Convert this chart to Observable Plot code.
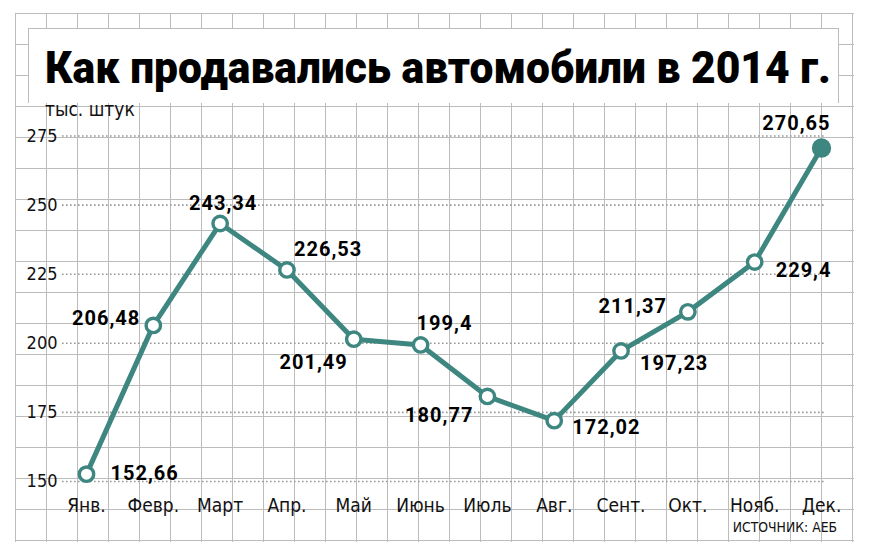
<!DOCTYPE html>
<html>
<head>
<meta charset="utf-8">
<script src="https://cdn.jsdelivr.net/npm/d3@7"></script>
<script src="https://cdn.jsdelivr.net/npm/@observablehq/plot@0.6"></script>
<style>
  html, body { margin: 0; padding: 0; background: #fff; }
  #wrap { position: relative; width: 869px; height: 553px; overflow: hidden; background: #fff; }
  #grid { position: absolute; left: 15px; top: 13px; width: 839px; height: 529px;
    background-image: linear-gradient(to right, #bcbcbc 1.4px, transparent 1.4px),
                      linear-gradient(to bottom, #bcbcbc 1.4px, transparent 1.4px);
    background-size: 31px 31px; }
  #titlebox { position: absolute; left: 28px; top: 28px; width: 809px; height: 74px; background: #fff;
    border-left: 1.5px solid #bcbcbc; border-top: 1.5px solid #bcbcbc; border-right: 1.5px solid #bcbcbc; }
  #title { position: absolute; left: 45px; top: 46px; font-family: Roboto, "DejaVu Sans", sans-serif;
    font-weight: 900; font-size: 44px; line-height: 1; white-space: nowrap; color: #000; transform-origin: 0 0; }
  #chart { position: absolute; left: 0; top: 0; }
  #unit { position: absolute; left: 45px; top: 100px; font-family: "Liberation Sans Narrow", "DejaVu Sans Condensed", sans-serif;
    font-size: 19px; line-height: 1; color: #111; }
  #source { position: absolute; right: 32px; top: 521px; font-family: "Liberation Sans Narrow", "DejaVu Sans Condensed", sans-serif;
    font-size: 13.8px; line-height: 1; color: #111; }
  #chart g[aria-label="text"] text { letter-spacing: 1px; }
</style>
</head>
<body>
<div id="wrap">
  <div id="grid"></div>
  <div id="titlebox"></div>
  <div id="title">Как продавались автомобили в 2014 г.</div>
  <div id="chart"></div>
  <div id="unit">тыс. штук</div>
  <div id="source">ИСТОЧНИК: АЕБ</div>
</div>
<script>
const months = ["Янв.", "Февр.", "Март", "Апр.", "Май", "Июнь", "Июль", "Авг.", "Сент.", "Окт.", "Нояб.", "Дек."];
const sales = [152.66, 206.48, 243.34, 226.53, 201.49, 199.4, 180.77, 172.02, 197.23, 211.37, 229.4, 270.65];
const yTicks = [150, 175, 200, 225, 250, 275];

// label placement relative to each point: [textAnchor, dx, dy]
const labelPlacement = [
  ["start", 24, -1], ["end", -13, -7], ["middle", 3, -20], ["start", 7, -20],
  ["end", -6, 23], ["start", -4, -21], ["end", -14, 19], ["start", 18, 7],
  ["start", 19, 13], ["end", -21, -5], ["start", 21, 9], ["end", 9, -24]
];

const teal = "#3e8680";
const data = months.map((m, i) => ({month: m, value: sales[i], label: String(sales[i]).replace(".", ",")}));
const last = data.length - 1;

const labelMarks = data.map((d, i) => Plot.text([d], {
  x: "month", y: "value", text: "label",
  textAnchor: labelPlacement[i][0], dx: labelPlacement[i][1], dy: labelPlacement[i][2],
  fontFamily: "Roboto, 'DejaVu Sans', sans-serif", fontWeight: 700, fontSize: 20, fill: "#000"
}));

const chart = Plot.plot({
  width: 869,
  height: 553,
  marginLeft: 62,
  marginRight: 44,
  marginTop: 120,
  marginBottom: 58,
  style: {background: "transparent", fontFamily: "'Liberation Sans Narrow', 'DejaVu Sans Condensed', sans-serif", color: "#111"},
  x: {type: "point", domain: months, range: [86, 821], padding: 0, round: false},
  y: {domain: [150, 275], range: [481, 135.5]},
  marks: [
    Plot.ruleY(yTicks, {stroke: "#999", strokeWidth: 1.6, strokeDasharray: "1.6,2.4"}),
    Plot.axisY(yTicks, {tickSize: 0, tickPadding: 5, fontSize: 18, label: null, fill: "#111"}),
    Plot.axisX({tickSize: 0, tickPadding: 3, fontSize: 19, label: null, fill: "#111"}),
    Plot.line(data, {x: "month", y: "value", stroke: teal, strokeWidth: 5, strokeLinejoin: "round"}),
    Plot.dot(data.slice(0, last), {x: "month", y: "value", r: 7.2, fill: "#fff", stroke: teal, strokeWidth: 3.4}),
    Plot.dot([data[last]], {x: "month", y: "value", r: 9.7, fill: teal}),
    ...labelMarks
  ]
});
document.getElementById("chart").appendChild(chart);

function fitTitle() {
  const t = document.getElementById("title");
  t.style.transform = "none";
  const w = t.getBoundingClientRect().width;
  t.style.transform = `scaleX(${786 / w})`;
}
fitTitle();
if (document.fonts && document.fonts.ready) document.fonts.ready.then(fitTitle);
</script>
</body>
</html>
